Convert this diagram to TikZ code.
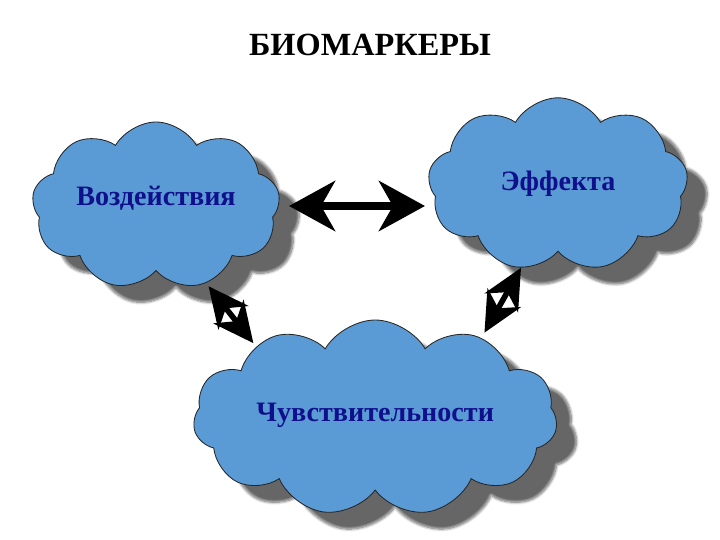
\documentclass[tikz,border=0pt]{standalone}
\usepackage{fontspec}
\setmainfont{Liberation Serif}
\usetikzlibrary{arrows.meta,shapes.symbols,shadows.blur}

\definecolor{cloudblue}{RGB}{91,155,213}
\definecolor{textnavy}{RGB}{16,16,140}

\tikzset{
  cloudbox/.style={cloud,cloud puffs=9,cloud puff arc=120,cloud ignores aspect,
    draw=black!85,line width=0.6pt,fill=cloudblue,
    blur shadow={shadow xshift=0.5cm,shadow yshift=-0.42cm,shadow opacity=60,shadow blur steps=8},
    font=\fontsize{20}{24}\selectfont\bfseries,text=textnavy},
  bigarrow/.style={line width=0.2cm,
    {Stealth[length=1.15cm,width=1.25cm,inset=0.35cm]}-{Stealth[length=1.15cm,width=1.25cm,inset=0.35cm]}},
  smallarrow/.style={line width=0.14cm,
    {Stealth[length=1cm,width=0.95cm,inset=0.3cm]}-{Stealth[length=1cm,width=0.95cm,inset=0.3cm]}}
}

\begin{document}
\begin{tikzpicture}
  \useasboundingbox (0,0) rectangle (18,13.5);
  \node[font=\fontsize{23}{28}\selectfont\bfseries](title)at(9.25,12.38){БИОМАРКЕРЫ};
  % clouds
  \node[cloudbox,text depth=0.5cm,minimum width=6.2cm,minimum height=4.2cm](vozd)at(3.9,8.35){Воздействия};
  \node[cloudbox,text depth=0.2cm,minimum width=6.5cm,minimum height=4.35cm](effect)at(13.95,8.88){Эффекта};
  \node[cloudbox,cloud puffs=11,text depth=0.3cm,minimum width=9.1cm,minimum height=4.9cm](chuv)at(9.38,3.05){Чувствительности};
  % arrows
  \draw[bigarrow]([xshift=0.25cm]vozd.east)--([xshift=-0.1cm]vozd.east-|effect.west);
  \draw[smallarrow,shorten <=0.1cm,shorten >=0.1cm](vozd.-57)--(chuv.149);
  \draw[smallarrow,shorten >=0.15cm](effect.-114)--(chuv.37);
\end{tikzpicture}
\end{document}
